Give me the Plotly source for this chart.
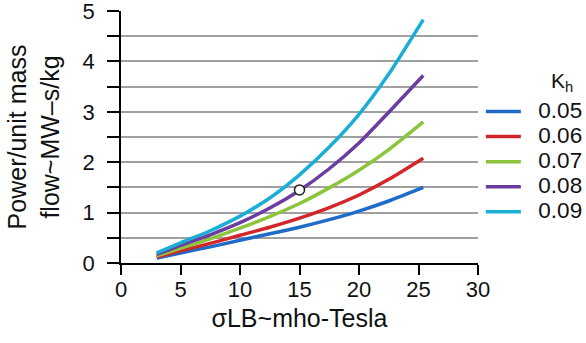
import plotly.graph_objects as go

x_vals = [3, 5, 7.5, 10, 12.5, 15, 17.5, 20, 22.5, 25.4]
kh_labels = ["0.05", "0.06", "0.07", "0.08", "0.09"]
y_005 = [0.10, 0.20, 0.32, 0.45, 0.58, 0.71, 0.86, 1.03, 1.23, 1.50]
y_006 = [0.12, 0.24, 0.39, 0.55, 0.71, 0.89, 1.10, 1.35, 1.66, 2.08]
y_007 = [0.14, 0.29, 0.48, 0.69, 0.92, 1.18, 1.49, 1.84, 2.25, 2.80]
y_008 = [0.17, 0.35, 0.56, 0.80, 1.09, 1.44, 1.87, 2.38, 2.99, 3.72]
y_009 = [0.20, 0.40, 0.64, 0.93, 1.29, 1.75, 2.30, 2.95, 3.75, 4.83]
series = [y_005, y_006, y_007, y_008, y_009]
colors = ["#1f6cc8", "#d3262b", "#8cc43c", "#6a3d9e", "#1aaed6"]

marker_x = [15]
marker_y = [1.45]

x_ticks = [0, 5, 10, 15, 20, 25, 30]
y_ticks = [0, 1, 2, 3, 4, 5]
y_minor = [0.5, 1.5, 2.5, 3.5, 4.5]
grid_vals = [0.5, 1, 1.5, 2, 2.5, 3, 3.5, 4, 4.5]

font_family = "Liberation Sans, Arial, sans-serif"

fig = go.Figure()
for lab, ys, col in zip(kh_labels, series, colors):
    fig.add_trace(go.Scatter(
        x=x_vals, y=ys, mode="lines",
        name='<span style="font-size:22.5px">&nbsp;&nbsp;' + lab + "</span>",
        line=dict(color=col, width=3.5, shape="spline", smoothing=0.6),
    ))
fig.add_trace(go.Scatter(
    x=marker_x, y=marker_y, mode="markers", showlegend=False,
    marker=dict(symbol="circle", size=10, color="white",
                line=dict(color="#222222", width=1.5)),
))
# invisible trace on the overlay axis so its grid lines render
fig.add_trace(go.Scatter(x=[None], y=[None], yaxis="y2", showlegend=False,
                         hoverinfo="skip"))

fig.update_layout(
    width=586, height=343,
    margin=dict(l=121, r=108, t=11, b=80, autoexpand=False),
    paper_bgcolor="white", plot_bgcolor="white",
    font=dict(family=font_family, size=21, color="#111111"),
    xaxis=dict(
        range=[0, 30], tickvals=x_ticks, ticks="outside", ticklen=10,
        tickcolor="black", tickwidth=1.5, showline=True, linecolor="black",
        linewidth=1.5, showgrid=False, zeroline=False,
        tickfont=dict(size=22),
        ticklabelstandoff=-4, ticklabeloverflow="allow",
        title=dict(text="σLB~mho-Tesla", standoff=8),
    ),
    yaxis=dict(
        range=[0, 5], tickvals=y_ticks, ticks="outside", ticklen=12,
        tickcolor="black", tickwidth=1.5, showline=True, linecolor="black",
        linewidth=1.5, showgrid=False, zeroline=False,
        tickfont=dict(size=22),
        minor=dict(tickvals=y_minor, ticks="outside",
                   ticklen=12, tickcolor="black", tickwidth=1.5, showgrid=False),
        ticklabelstandoff=8, ticklabeloverflow="allow",
        title=dict(text="Power/unit mass<br>flow~MW–s/kg", standoff=16),
    ),
    yaxis2=dict(
        range=[0, 5], overlaying="y", tickvals=grid_vals, showgrid=True,
        gridcolor="#a0a0a0", gridwidth=2, showticklabels=False, ticks="",
        zeroline=False, showline=False,
    ),
    legend=dict(
        x=1.008, xanchor="left", y=0.671, yanchor="top",
        font=dict(size=17), itemwidth=35, tracegroupgap=0,
        bgcolor="rgba(0,0,0,0)",
    ),
    showlegend=True,
)

fig.add_annotation(
    text="K<sub>h</sub>", xref="paper", yref="paper", x=1.199, y=0.718,
    xanchor="left", yanchor="middle", showarrow=False,
    font=dict(size=21, family=font_family),
)

fig.write_html("out.html")
